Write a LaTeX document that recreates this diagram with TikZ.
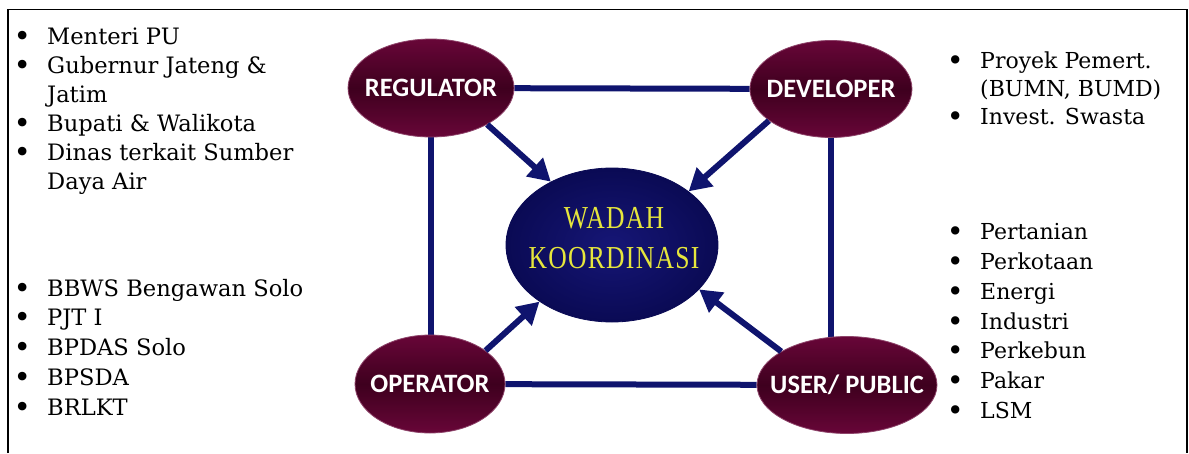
\documentclass[tikz,border=0pt]{standalone}
\usepackage{fontspec}
\setmainfont{DejaVu Serif}
\newfontfamily\lblfont{Carlito}
\newfontfamily\wadfont[FakeStretch=0.8,LetterSpace=4]{Liberation Serif}
\usetikzlibrary{shapes.geometric,arrows.meta,backgrounds}
\definecolor{navy}{RGB}{15,20,110}
\definecolor{maroonA}{RGB}{104,6,56}
\definecolor{maroonB}{RGB}{62,0,30}
\definecolor{wadA}{RGB}{22,22,118}
\definecolor{wadB}{RGB}{10,10,84}
\definecolor{wadyel}{RGB}{230,230,60}
\newcommand{\bul}{\makebox[25pt][l]{\makebox[0pt]{\raisebox{-2pt}{\scalebox{1.3}{\textbullet}}}}}
\newcommand{\cont}{\hspace*{25pt}}
\newcommand{\lbl}[1]{\makebox[0pt]{#1}}
\begin{document}
\begin{tikzpicture}[x=1pt,y=-1pt,
  role/.style={ellipse, inner sep=0pt, top color=maroonA, bottom color=maroonA, middle color=maroonB,
    draw=maroonA!75!white, line width=0.8pt, text=white, font=\lblfont\bfseries\fontsize{26.5}{30}\selectfont},
  hub/.style={ellipse, inner sep=0pt, inner color=wadA, outer color=wadB, draw=wadB, line width=0.8pt},
  hubtext/.style={text=wadyel, align=center, inner sep=0pt, font=\wadfont\fontsize{32}{40}\selectfont},
  link/.style={draw=navy, line width=6pt},
  arr/.style={link, -{Triangle[length=22pt,width=24pt]}},
  list/.style={anchor=north west, inner sep=0pt}
]
\useasboundingbox (0,0) rectangle (1189,453);
% frame
\draw[line width=1.5pt] (8,453) -- (8,9.5) -- (1187,9.5) -- (1187,453);

% ellipses
\node[role, minimum width=166pt, minimum height=98pt] (reg) at (431,88) {\lbl{REGULATOR}};
\node[role, minimum width=162pt, minimum height=97pt] (dev) at (831,89) {\lbl{DEVELOPER}};
\node[role, minimum width=150pt, minimum height=98pt] (op) at (430,384) {\lbl{OPERATOR}};
\node[role, minimum width=180pt, minimum height=97pt] (usr) at (847,385) {\lbl{USER/ PUBLIC}};
\node[hub, minimum width=212pt, minimum height=154pt] (wad) at (612,245) {};
\node[hubtext] (wadt) at (614,238) {WADAH\\KOORDINASI};

% square links
\begin{scope}[on background layer]
  \draw[link] (reg) -- (dev);
  \draw[link] (reg) -- (reg |- op);
  \draw[link] (dev) -- (dev |- usr);
  \draw[link] (op) -- (usr);
\end{scope}

% arrows to hub
\draw[arr] (reg.327) -- (wad.134);
\draw[arr] (dev.207) -- (wad.35);
\draw[arr] (op.31) -- (wad.218);
\draw[arr] (usr.153) -- (wad.333);

% lists
\node[list] (l1) at (22,24) {\fontsize{22.6}{29}\selectfont\begin{tabular}{@{}l@{}}
\bul Menteri PU\\
\bul Gubernur Jateng \&\\
\cont Jatim\\
\bul Bupati \& Walikota\\
\bul Dinas terkait Sumber\\
\cont Daya Air
\end{tabular}};
\node[list] (l2) at (22,275) {\fontsize{22.6}{29.8}\selectfont\begin{tabular}{@{}l@{}}
\bul BBWS Bengawan Solo\\
\bul PJT I\\
\bul BPDAS Solo\\
\bul BPSDA\\
\bul BRLKT
\end{tabular}};
\node[list] (r1) at (955,49) {\fontsize{22}{28}\selectfont\begin{tabular}{@{}l@{}}
\bul Proyek Pemert.\\
\cont (BUMN, BUMD)\\
\bul Invest. Swasta
\end{tabular}};
\node[list] (r2) at (955,219) {\fontsize{22}{29.7}\selectfont\begin{tabular}{@{}l@{}}
\bul Pertanian\\
\bul Perkotaan\\
\bul Energi\\
\bul Industri\\
\bul Perkebun\\
\bul Pakar\\
\bul LSM
\end{tabular}};
\end{tikzpicture}
\end{document}
